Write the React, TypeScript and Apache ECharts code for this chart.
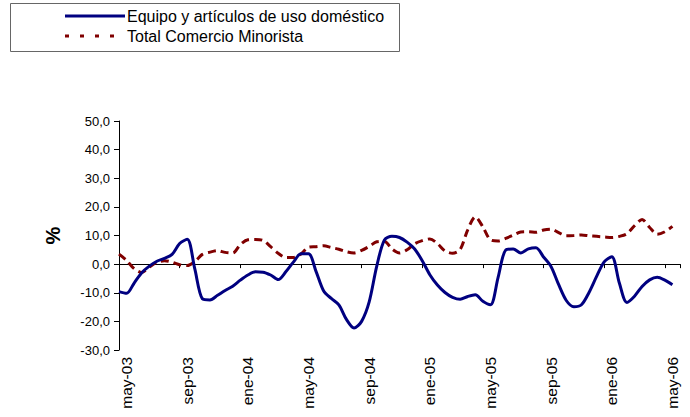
import React, { useEffect, useRef } from 'react';
import * as echarts from 'echarts';

// Month categories (May 2003 – May 2006)
const monthLabels = [
  'may-03', 'jun-03', 'jul-03', 'ago-03', 'sep-03', 'oct-03', 'nov-03', 'dic-03',
  'ene-04', 'feb-04', 'mar-04', 'abr-04', 'may-04', 'jun-04', 'jul-04', 'ago-04',
  'sep-04', 'oct-04', 'nov-04', 'dic-04', 'ene-05', 'feb-05', 'mar-05', 'abr-05',
  'may-05', 'jun-05', 'jul-05', 'ago-05', 'sep-05', 'oct-05', 'nov-05', 'dic-05',
  'ene-06', 'feb-06', 'mar-06', 'abr-06', 'may-06',
];

// Half-monthly readings (%), starting at the beginning of May 2003
const equipo = [
  -9.6, -10.2, -6.6, -3.0, -0.7, 1.0, 2.0, 3.4, 7.2, 8.7,
  -1.7, -12.1, -12.5, -10.9, -9.2, -7.7, -5.6, -3.8, -2.7, -2.8,
  -3.8, -5.4, -2.7, 0.7, 3.6, 3.6, -2.6, -9.4, -12.0, -14.2,
  -19.3, -22.3, -20.0, -13.2, -0.7, 8.4, 9.7, 9.3, 7.7, 5.3,
  1.2, -3.7, -7.3, -9.9, -11.6, -12.3, -11.3, -10.7, -13.0, -14.2,
  -4.7, 4.9, 5.3, 3.9, 5.3, 5.7, 2.5, -0.9, -7.2, -12.7,
  -14.9, -14.2, -9.9, -4.3, 0.8, 2.6, -6.6, -13.4, -11.2, -7.8,
  -5.5, -4.6, -5.6, -7.2,
];

const totalMinorista = [
  3.5, 1.3, -1.6, -2.9, -1.0, 0.6, 1.2, 0.7, -0.2, -0.5,
  0.9, 3.4, 4.2, 4.7, 4.1, 3.9, 6.8, 8.5, 8.6, 8.3,
  6.1, 3.8, 2.3, 2.3, 3.5, 5.9, 6.1, 6.4, 5.8, 5.2,
  4.3, 3.9, 4.8, 6.2, 7.8, 8.0, 5.3, 3.9, 5.0, 7.1,
  8.2, 8.8, 7.2, 4.6, 3.8, 5.1, 12.0, 16.5, 13.0, 8.5,
  8.1, 9.0, 10.1, 11.2, 11.3, 11.1, 11.9, 12.2, 11.0, 9.9,
  10.0, 10.2, 9.9, 9.7, 9.5, 9.3, 9.7, 10.6, 13.4, 15.6,
  12.8, 10.4, 11.3, 13.2,
];

const seriesNames = ['Equipo y artículos de uso doméstico', 'Total Comercio Minorista'];

const FONT = '"Liberation Sans", Arial, sans-serif';
const BLUE = '#000080';
const RED = '#800000';

export default function App() {
  const ref = useRef<HTMLDivElement>(null);

  useEffect(() => {
    document.body.style.margin = '0';
    if (!ref.current) return;
    const chart = echarts.init(ref.current, undefined, { renderer: 'svg' });

    const toPairs = (arr: number[]) => arr.map((v, i) => [i / 2, v]);

    chart.setOption({
      animation: false,
      backgroundColor: '#fff',
      grid: { left: 119, right: 10, top: 121, bottom: 67, containLabel: false },
      xAxis: [
        {
          type: 'value',
          min: 0,
          max: 37,
          interval: 4,
          position: 'bottom',
          axisLine: { show: true, onZero: true, lineStyle: { color: '#000', width: 1 } },
          axisTick: { show: true, length: 4, inside: false, lineStyle: { color: '#000', width: 1 } },
          axisLabel: { show: false },
          splitLine: { show: false },
        },
        {
          type: 'category',
          data: monthLabels,
          boundaryGap: true,
          position: 'bottom',
          axisLine: { show: false, onZero: false },
          axisTick: { show: false },
          axisLabel: {
            interval: 3,
            rotate: 90,
            fontSize: 15.5,
            fontFamily: FONT,
            color: '#000',
            margin: 7,
          },
          splitLine: { show: false },
        },
      ],
      yAxis: {
        type: 'value',
        min: -30,
        max: 50,
        interval: 10,
        name: '%',
        nameLocation: 'middle',
        nameRotate: 90,
        nameGap: 56,
        nameTextStyle: { fontSize: 20, fontWeight: 'bold', fontFamily: FONT, color: '#000' },
        axisLine: { show: true, lineStyle: { color: '#000', width: 1 } },
        axisTick: { show: true, length: 5, inside: false, lineStyle: { color: '#000', width: 1 } },
        axisLabel: {
          fontSize: 13,
          fontFamily: FONT,
          color: '#000',
          margin: 9,
          formatter: (v: number) => v.toFixed(1).replace('.', ','),
        },
        splitLine: { show: false },
      },
      series: [
        {
          name: seriesNames[0],
          type: 'line',
          xAxisIndex: 0,
          data: toPairs(equipo),
          showSymbol: false,
          symbol: 'none',
          smooth: 0.3,
          lineStyle: { color: BLUE, width: 3 },
          z: 3,
        },
        {
          name: seriesNames[1],
          type: 'line',
          xAxisIndex: 0,
          data: toPairs(totalMinorista),
          showSymbol: false,
          symbol: 'none',
          smooth: 0.3,
          lineStyle: { color: RED, width: 3, type: [8, 5] },
          z: 2,
        },
      ],
      graphic: [
        {
          type: 'rect',
          shape: { x: 10.5, y: 3.5, width: 389, height: 48 },
          style: { fill: '#fff', stroke: '#666', lineWidth: 1 },
          z: 10,
        },
        {
          type: 'line',
          shape: { x1: 65, y1: 16, x2: 125, y2: 16 },
          style: { stroke: BLUE, lineWidth: 3 },
          z: 11,
        },
        {
          type: 'text',
          x: 127,
          y: 16,
          style: {
            text: seriesNames[0],
            font: `16px ${FONT}`,
            fill: '#000',
            verticalAlign: 'middle',
            align: 'left',
          },
          z: 11,
        },
        {
          type: 'line',
          shape: { x1: 65, y1: 36, x2: 125, y2: 36 },
          style: { stroke: RED, lineWidth: 3, lineDash: [4, 11] },
          z: 11,
        },
        {
          type: 'text',
          x: 127,
          y: 36,
          style: {
            text: seriesNames[1],
            font: `16px ${FONT}`,
            fill: '#000',
            verticalAlign: 'middle',
            align: 'left',
          },
          z: 11,
        },
      ],
    });

    return () => chart.dispose();
  }, []);

  return <div ref={ref} style={{ width: 690, height: 417 }} />;
}
